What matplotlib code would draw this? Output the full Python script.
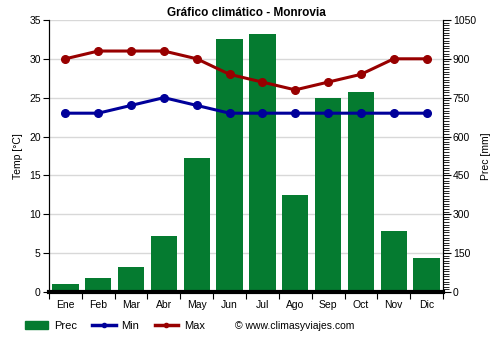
import matplotlib.pyplot as plt
from matplotlib.lines import Line2D
from matplotlib.patches import Patch
import numpy as np

plt.rcParams['font.family'] = ['Liberation Sans', 'DejaVu Sans']

months = ['Ene', 'Feb', 'Mar', 'Abr', 'May', 'Jun', 'Jul', 'Ago', 'Sep', 'Oct', 'Nov', 'Dic']
prec = [31, 54, 97, 216, 517, 977, 996, 374, 749, 772, 236, 131]
t_min = [23, 23, 24, 25, 24, 23, 23, 23, 23, 23, 23, 23]
t_max = [30, 31, 31, 31, 30, 28, 27, 26, 27, 28, 30, 30]

GREEN = '#057b30'
BLUE = '#00009a'
RED = '#980000'

fig = plt.figure(figsize=(5, 3.5), dpi=100)
ax = fig.add_axes([0.098, 0.166, 0.788, 0.777])
ax2 = ax.twinx()

x = np.arange(len(months))

# precipitation bars on the right scale, drawn below the temperature lines
ax2.bar(x, prec, width=0.8, color=GREEN, zorder=2)
ax2.set_ylim(0, 1050)
ax2.set_yticks(np.arange(0, 1051, 150))
ax2.set_yticks(np.arange(0, 1051, 10), minor=True)
ax2.tick_params(axis='y', which='major', length=6, labelsize=7.5, pad=1)
ax2.tick_params(axis='y', which='minor', length=4)
ax2.set_ylabel('Prec [mm]', fontsize=7.5)

ax.set_zorder(ax2.get_zorder() + 1)
ax.patch.set_visible(False)
ax.plot(x, t_max, color=RED, lw=2.2, marker='o', ms=5.5, zorder=5)
ax.plot(x, t_min, color=BLUE, lw=2.2, marker='o', ms=5.5, zorder=5)
ax.set_ylim(0, 35)
ax.set_xlim(-0.5, 11.5)
ax.set_yticks(np.arange(0, 36, 5))
ax.set_ylabel('Temp [°C]', fontsize=7.5)
ax.tick_params(axis='y', labelsize=7.5, length=4, pad=2)

# month boundaries as ticks, names centred under the bars
ax.set_xticks(np.arange(-0.5, 12, 1))
ax.set_xticklabels([])
ax.set_xticks(x, minor=True)
ax.set_xticklabels(months, minor=True, fontsize=7.5)
ax.tick_params(axis='x', which='major', length=5)
ax.tick_params(axis='x', which='minor', length=0, pad=6)

# grid lives on the bar axes so it stays behind the bars
ax2.set_axisbelow(True)
ax2.xaxis.grid(True, which='major', color='#d8d8d8', lw=1)
ax2.yaxis.grid(True, which='major', color='#d8d8d8', lw=1)
for a in (ax, ax2):
    a.spines['top'].set_visible(False)
ax.axhline(0, color='black', lw=3, zorder=6, clip_on=False)
ax.spines['bottom'].set_visible(False)
ax2.spines['bottom'].set_visible(False)

ax.set_title('Gráfico climático - Monrovia', fontsize=8.5, fontweight='bold', pad=3)

handles = [
    Patch(color=GREEN, label='Prec'),
    Line2D([0], [0], color=BLUE, lw=2.5, marker='o', ms=3, label='Min'),
    Line2D([0], [0], color=RED, lw=2.5, marker='o', ms=3, label='Max'),
]
fig.legend(handles=handles, loc='center left', bbox_to_anchor=(0.05, 0.068), ncol=3,
           frameon=False, fontsize=8, handlelength=2.1, handletextpad=0.5,
           columnspacing=1.4, borderaxespad=0, borderpad=0)
fig.text(0.47, 0.068, '© www.climasyviajes.com', fontsize=7.5, va='center')

fig.savefig('out.png', dpi=100)
